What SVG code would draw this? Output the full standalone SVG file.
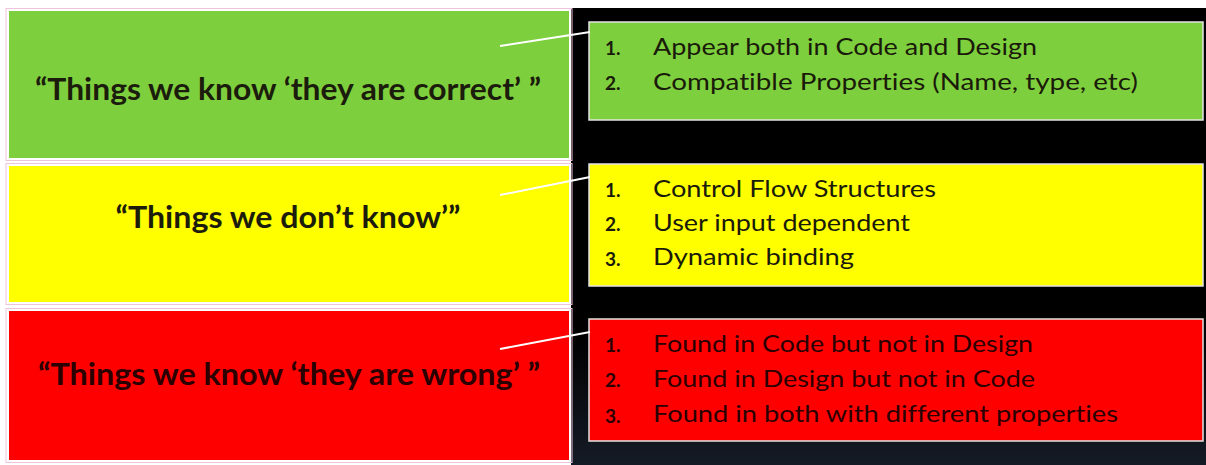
<svg xmlns="http://www.w3.org/2000/svg" width="1206" height="465" viewBox="0 0 1206 465">
  <defs>
    <linearGradient id="panelShade" x1="0" y1="0" x2="0" y2="1">
      <stop offset="0" stop-color="#000000"/>
      <stop offset="0.72" stop-color="#000000"/>
      <stop offset="1" stop-color="#151b26"/>
    </linearGradient>
  </defs>
  <style>
    text { font-variant-ligatures: none; }
    .halo { fill: none; stroke: #eec4da; stroke-width: 1; }
    .cat { stroke: #ffffff; stroke-width: 2; }
    .list { stroke: #e4e4e4; stroke-width: 1.5; }
    .green { fill: #7ecf3d; }
    .yellow { fill: #ffff00; }
    .red { fill: #ff0000; }
    .title { font-family: Lato, "Open Sans", "Liberation Sans", sans-serif; font-weight: bold; font-size: 30px; fill: #1c1c0c; text-anchor: middle; }
    .item { font-family: Lato, "Open Sans", "Liberation Sans", sans-serif; font-size: 24px; fill: #1a1a0a; }
    .num { font-family: Lato, "Open Sans", "Liberation Sans", sans-serif; font-weight: bold; font-size: 19px; fill: #1a1a0a; }
    .dark { fill: #2a0000; }
    .link { stroke: #ffffff; stroke-width: 2; fill: none; }
  </style>

  <!-- page and dark panel -->
  <rect x="0" y="0" width="1206" height="465" fill="#ffffff"/>
  <rect x="571" y="8" width="635" height="457" fill="url(#panelShade)"/>

  <!-- category boxes -->
  <g id="known-correct">
    <rect class="halo" x="6" y="8.5" width="566" height="152"/>
    <rect class="cat green" x="8" y="10" width="562" height="149"/>
    <text class="title" x="288" y="100" textLength="506" lengthAdjust="spacingAndGlyphs">“Things we know ‘they are correct’ ”</text>
  </g>
  <g id="unknown">
    <rect class="halo" x="6" y="163.5" width="566" height="141"/>
    <rect class="cat yellow" x="8" y="165" width="562" height="138"/>
    <text class="title" x="288" y="228" textLength="345" lengthAdjust="spacingAndGlyphs">“Things we don’t know’”</text>
  </g>
  <g id="known-wrong">
    <rect class="halo" x="6" y="308.5" width="566" height="154"/>
    <rect class="cat red" x="8" y="310" width="562" height="151"/>
    <text class="title dark" x="289" y="385" textLength="502" lengthAdjust="spacingAndGlyphs">“Things we know ‘they are wrong’ ”</text>
  </g>

  <!-- detail lists -->
  <g id="correct-details">
    <rect class="list green" x="589" y="22" width="614" height="98"/>
    <text class="num" x="605" y="55">1.</text>
    <text class="item" x="653" y="55" textLength="384" lengthAdjust="spacingAndGlyphs">Appear both in Code and Design</text>
    <text class="num" x="605" y="90">2.</text>
    <text class="item" x="653" y="90" textLength="485" lengthAdjust="spacingAndGlyphs">Compatible Properties (Name, type, etc)</text>
  </g>
  <g id="unknown-details">
    <rect class="list yellow" x="589" y="164" width="614" height="122"/>
    <text class="num" x="605" y="197">1.</text>
    <text class="item" x="653" y="197" textLength="283" lengthAdjust="spacingAndGlyphs">Control Flow Structures</text>
    <text class="num" x="605" y="231">2.</text>
    <text class="item" x="653" y="231" textLength="257" lengthAdjust="spacingAndGlyphs">User input dependent</text>
    <text class="num" x="605" y="266">3.</text>
    <text class="item" x="653" y="265" textLength="201" lengthAdjust="spacingAndGlyphs">Dynamic binding</text>
  </g>
  <g id="wrong-details">
    <rect class="list red" x="589" y="319" width="614" height="122"/>
    <text class="num dark" x="605" y="352">1.</text>
    <text class="item dark" x="653" y="352" textLength="380" lengthAdjust="spacingAndGlyphs">Found in Code but not in Design</text>
    <text class="num dark" x="605" y="387">2.</text>
    <text class="item dark" x="653" y="387" textLength="382" lengthAdjust="spacingAndGlyphs">Found in Design but not in Code</text>
    <text class="num dark" x="605" y="423">3.</text>
    <text class="item dark" x="653" y="422" textLength="465" lengthAdjust="spacingAndGlyphs">Found in both with different properties</text>
  </g>

  <!-- connectors -->
  <g id="connectors">
    <line class="link" x1="500" y1="46" x2="590" y2="32"/>
    <line class="link" x1="500" y1="195" x2="590" y2="177"/>
    <line class="link" x1="500" y1="349" x2="590" y2="332"/>
  </g>
</svg>
